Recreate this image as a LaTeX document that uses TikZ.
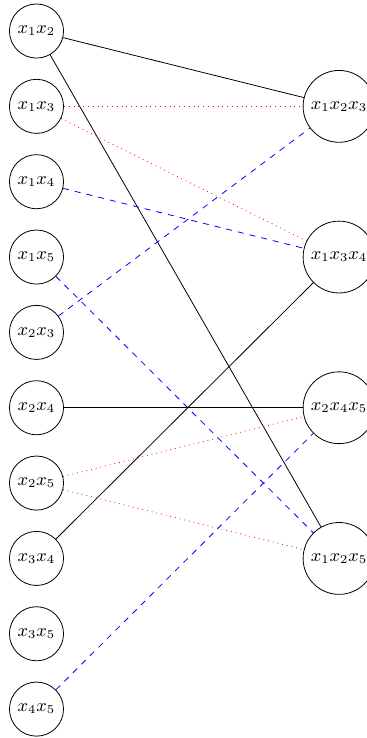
\documentclass[tikz,border=0pt]{standalone}
\usepackage{amsmath,amssymb}
\usepackage{xcolor}
\usetikzlibrary{positioning}

\begin{document}
\begin{tikzpicture}[every node/.style={circle,draw,inner sep=3pt,font=\fontsize{9.2}{11}\selectfont}, node distance=1.3236cm]
\useasboundingbox (-0.641,0.545) rectangle (5.79,-12.42);
% Left column: pairs
\node (x12) {$x_1x_2$};
\node [below of=x12] (x13) {$x_1x_3$};
\node [below of=x13] (x14) {$x_1x_4$};
\node [below of=x14] (x15) {$x_1x_5$};
\node [below of=x15] (x23) {$x_2x_3$};
\node [below of=x23] (x24) {$x_2x_4$};
\node [below of=x24] (x25) {$x_2x_5$};
\node [below of=x25] (x34) {$x_3x_4$};
\node [below of=x34] (x35) {$x_3x_5$};
\node [below of=x35] (x45) {$x_4x_5$};

% Right column: triples
\node [right of=x13, node distance=5.315cm] (x123) {$x_1x_2x_3$};
\node [right of=x15, node distance=5.315cm] (x134) {$x_1x_3x_4$};
\node [right of=x24, node distance=5.315cm] (x245) {$x_2x_4x_5$};
\node [right of=x34, node distance=5.315cm] (x125) {$x_1x_2x_5$};

% Edges
\draw (x12) -- (x123);
\draw (x12) -- (x125);
\draw [red,dotted] (x13) -- (x123);
\draw [red,dotted] (x13) -- (x134);
\draw [blue,dashed] (x14) -- (x134);
\draw [blue,dashed] (x15) -- (x125);
\draw [blue,dashed] (x23) -- (x123);
\draw (x24) -- (x245);
\draw [red,dotted] (x25) -- (x245);
\draw [red,dotted] (x25) -- (x125);
\draw (x34) -- (x134);
\draw [blue,dashed] (x45) -- (x245);
\end{tikzpicture}
\end{document}
